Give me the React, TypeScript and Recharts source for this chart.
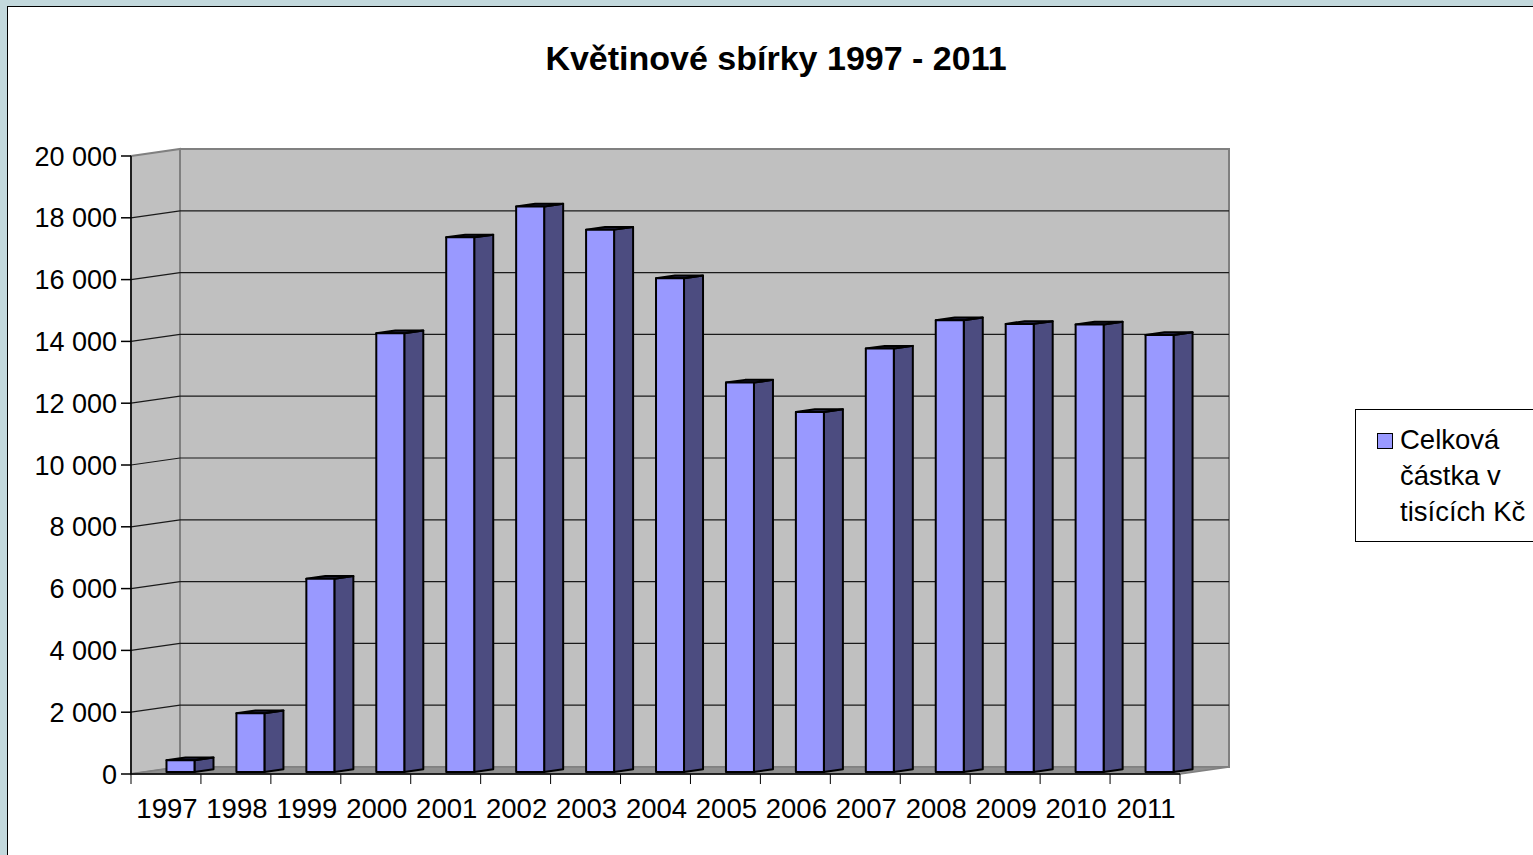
import React from 'react';
import { BarChart, Bar, XAxis, YAxis, CartesianGrid } from 'recharts';

const years = ['1997', '1998', '1999', '2000', '2001', '2002', '2003', '2004', '2005', '2006', '2007', '2008', '2009', '2010', '2011'];
const amounts = [380, 1900, 6250, 14200, 17300, 18300, 17550, 15980, 12600, 11650, 13700, 14620, 14500, 14480, 14140];
const yTicks = [0, 2000, 4000, 6000, 8000, 10000, 12000, 14000, 16000, 18000, 20000];
const chartTitle = 'Květinové sbírky 1997 - 2011';
const seriesName = 'Celková částka v tisících Kč';
const legendLines = ['Celková', 'částka v', 'tisících Kč'];

const data = years.map((year, i) => ({ year, value: amounts[i] }));

const FONT = '"Liberation Sans", Arial, Helvetica, sans-serif';
const DX = 49;
const DY = -7;
const F0 = 0.296;
const F1 = 0.684;
const FRONT = '#9999ff';
const SIDE = '#4c4c80';
const TOP = '#26264a';
const WALL = '#c0c0c0';
const FLOOR = '#8f8f8f';
const EDGE = '#808080';

const fmt = (v: number) => String(v).replace(/\B(?=(\d{3})+(?!\d))/g, ' ');

const GridLine = (p: any) => {
  const { x1, y1, x2, index, y, height } = p;
  const lines: React.ReactNode[] = [];
  if (index === 0 && typeof y === 'number' && typeof height === 'number') {
    const top = y;
    const bot = y + height;
    lines.push(
      <g key="walls">
        <polygon
          points={`${x1 + DX},${top + DY} ${x2 + DX},${top + DY} ${x2 + DX},${bot + DY} ${x1 + DX},${bot + DY}`}
          fill={WALL}
          stroke={EDGE}
          strokeWidth={2}
        />
        <polygon
          points={`${x1},${top} ${x1 + DX},${top + DY} ${x1 + DX},${bot + DY} ${x1},${bot}`}
          fill={WALL}
          stroke={EDGE}
          strokeWidth={2}
        />
        <polygon
          points={`${x1},${bot} ${x2},${bot} ${x2 + DX},${bot + DY} ${x1 + DX},${bot + DY}`}
          fill={FLOOR}
          stroke={EDGE}
          strokeWidth={1.5}
        />
      </g>
    );
  }
  const isEdge = typeof y === 'number' && typeof height === 'number' && (Math.abs(y1 - y) < 0.5 || Math.abs(y1 - (y + height)) < 0.5);
  if (!isEdge) {
    lines.push(
      <g key="gl">
        <line x1={x1} y1={y1} x2={x1 + DX} y2={y1 + DY} stroke="#1a1a1a" strokeWidth={1.2} />
        <line x1={x1 + DX} y1={y1 + DY} x2={x2 + DX} y2={y1 + DY} stroke="#1a1a1a" strokeWidth={1.2} />
      </g>
    );
  }
  return <g>{lines}</g>;
};

const Prism = (p: any) => {
  const { x, y, width, height } = p;
  if (x == null || y == null) return null;
  const fx = x + DX * F0;
  const fy = y + DY * F0;
  const ddx = DX * (F1 - F0);
  const ddy = DY * (F1 - F0);
  const w = width;
  const h = height;
  return (
    <g stroke="#000" strokeWidth={2} strokeLinejoin="round">
      <polygon
        points={`${fx + w},${fy} ${fx + w + ddx},${fy + ddy} ${fx + w + ddx},${fy + h + ddy} ${fx + w},${fy + h}`}
        fill={SIDE}
      />
      <polygon
        points={`${fx},${fy} ${fx + w},${fy} ${fx + w + ddx},${fy + ddy} ${fx + ddx},${fy + ddy}`}
        fill={TOP}
      />
      <rect x={fx} y={fy} width={w} height={h} fill={FRONT} />
    </g>
  );
};

const XTick = (p: any) => {
  const { x, y, payload, index, width, visibleTicksCount } = p;
  let off = payload && typeof payload.offset === 'number' && payload.offset > 0 ? payload.offset : 0;
  if (!off && width && visibleTicksCount) off = width / visibleTicksCount / 2;
  const axisY = y - 23;
  return (
    <g>
      <line x1={x - off} y1={axisY} x2={x - off} y2={axisY + 10} stroke="#000" strokeWidth={1} />
      {index === years.length - 1 && (
        <line x1={x + off} y1={axisY} x2={x + off} y2={axisY + 10} stroke="#000" strokeWidth={1} />
      )}
      <text x={x + 1} y={y} dy={21} textAnchor="middle" fontSize={27.5} fontFamily={FONT} fill="#000">
        {payload.value}
      </text>
    </g>
  );
};

export default function App() {
  return (
    <div style={{ position: 'fixed', left: 0, top: 0, width: 1533, height: 855, background: '#c3d9dd', overflow: 'hidden' }}>
      <div
        style={{
          position: 'absolute',
          left: 7,
          top: 6,
          width: 1540,
          height: 860,
          background: '#fff',
          borderLeft: '1px solid #000',
          borderTop: '1px solid #000',
        }}
      />
      <div style={{ position: 'absolute', left: 0, top: 0 }}>
        <BarChart
          width={1533}
          height={855}
          data={data}
          margin={{ top: 156, right: 353, bottom: 31, left: 21 }}
          barCategoryGap="30%"
        >
          <text x={776} y={70} textAnchor="middle" fontSize={34} fontWeight="bold" fontFamily={FONT} fill="#000">
            {chartTitle}
          </text>
          <CartesianGrid horizontal={GridLine as any} vertical={false} />
          <XAxis
            dataKey="year"
            height={50}
            tickSize={10}
            tickMargin={13}
            tickLine={false}
            axisLine={{ stroke: '#000', strokeWidth: 1.5 }}
            tick={<XTick />}
            interval={0}
          />
          <YAxis
            width={110}
            domain={[0, 20000]}
            ticks={yTicks}
            interval={0}
            tickSize={10}
            tickMargin={4}
            tickFormatter={fmt}
            axisLine={{ stroke: '#000', strokeWidth: 1.5 }}
            tickLine={{ stroke: '#000', strokeWidth: 1.5 }}
            tick={{ fontSize: 27, fill: '#000', fontFamily: FONT }}
          />
          <Bar dataKey="value" name={seriesName} shape={<Prism />} isAnimationActive={false} />
        </BarChart>
      </div>
      <div
        style={{
          position: 'absolute',
          left: 1355,
          top: 409,
          width: 200,
          height: 133,
          border: '1px solid #000',
          background: '#fff',
          boxSizing: 'border-box',
          fontFamily: FONT,
          fontSize: 27.5,
          lineHeight: '36px',
          color: '#000',
        }}
      >
        <div
          style={{
            position: 'absolute',
            left: 21,
            top: 23,
            width: 14,
            height: 14,
            background: FRONT,
            border: '1px solid #000',
          }}
        />
        <div style={{ position: 'absolute', left: 44, top: 12, whiteSpace: 'nowrap' }}>
          {legendLines.map((l) => (
            <div key={l}>{l}</div>
          ))}
        </div>
      </div>
    </div>
  );
}
